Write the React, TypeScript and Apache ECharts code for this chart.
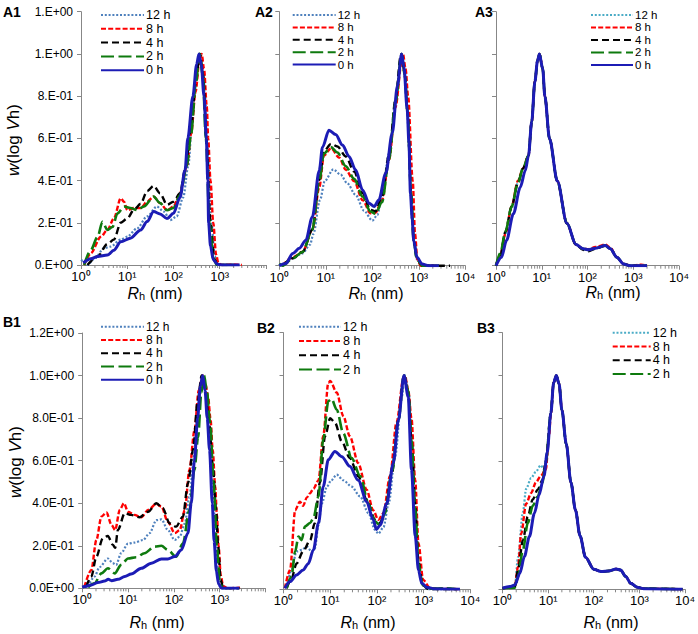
import React, { useEffect, useRef } from 'react';
import * as echarts from 'echarts';

const FONT = '"Liberation Sans", Arial, sans-serif';
const AXIS = '#878787';

const SERIES_NAMES = ['12 h', '8 h', '4 h', '2 h', '0 h'];
const X_TICK_LABELS = ['10⁰', '10¹', '10²', '10³', '10⁴'];
const Y_LABELS_A1 = ['0.E+00', '2.E-01', '4.E-01', '6.E-01', '8.E-01', '1.E+00', '1.E+00'];
const Y_LABELS_B1 = ['0.0E+00', '2.0E-01', '4.0E-01', '6.0E-01', '8.0E-01', '1.0E+00', '1.2E+00'];
const MINOR_TICKS = [2, 3, 4, 5, 6, 7, 8, 9, 20, 30, 40, 50, 60, 70, 80, 90, 200, 300, 400, 500, 600, 700, 800, 900, 2000, 3000, 4000, 5000, 6000, 7000, 8000, 9000];

// ---------- A1 ----------
const A1_12H = [[1.0,0.024],[1.1,0.02],[1.38,0],[1.95,0.03],[3.16,0.08],[4.37,0.087],[7.24,0.12],[10,0.134],[16.3,0.174],[26.9,0.23],[43.7,0.277],[61.7,0.253],[85,0.213],[117,0.23],[162,0.32],[209,0.47],[260,0.72],[310,0.9],[360,1.0],[420,0.93],[480,0.8],[560,0.5],[661,0.2],[780,0.04],[950,0],[2000,0]];
const A1_8H = [[1.17,0],[1.62,0.055],[2.69,0.134],[3.72,0.166],[5.13,0.22],[7.24,0.316],[8.51,0.3],[10,0.26],[13.8,0.27],[19.5,0.27],[26.9,0.3],[37.2,0.324],[51.3,0.293],[72.4,0.26],[100,0.277],[138,0.34],[195,0.47],[240,0.62],[300,0.82],[360,0.96],[407,1.0],[457,0.93],[525,0.75],[562,0.6],[631,0.4],[724,0.2],[832,0.05],[933,0.01],[1100,0],[2000,0.003],[3000,0]];
const A1_4H = [[1.38,0],[2.29,0.04],[3.72,0.1],[5.13,0.12],[7.24,0.2],[10,0.22],[13.8,0.26],[19.5,0.29],[26.9,0.35],[37.2,0.375],[51.3,0.34],[72.4,0.285],[100,0.3],[138,0.34],[178,0.45],[240,0.65],[300,0.86],[372,1.0],[440,0.9],[513,0.6],[631,0.2],[760,0.03],[900,0],[2000,0]];
const A1_2H = [[1.17,0],[1.62,0.07],[2.29,0.134],[2.9,0.205],[3.72,0.166],[4.79,0.18],[6.17,0.245],[8.51,0.277],[11.7,0.27],[16.3,0.26],[22.9,0.277],[37.2,0.324],[51.3,0.293],[72.4,0.26],[100,0.27],[138,0.33],[195,0.47],[240,0.62],[300,0.85],[363,1.0],[430,0.9],[500,0.6],[603,0.2],[724,0.03],[870,0],[2000,0]];
const A1_0H = [[1.12,0.01],[1.62,0.03],[2.29,0.04],[3.72,0.047],[5.13,0.07],[7.24,0.11],[11.7,0.127],[19.5,0.166],[26.9,0.206],[37.2,0.253],[51.3,0.242],[72.4,0.22],[100,0.245],[138,0.32],[178,0.45],[204,0.6],[263,0.8],[316,0.95],[355,1.0],[398,0.95],[457,0.8],[513,0.6],[550,0.4],[575,0.2],[631,0.09],[724,0.025],[891,0.003],[1200,0],[2700,0]];

// ---------- A2 ----------
const A2_12H = [[1.17,0],[1.95,0.035],[3.16,0.058],[4.6,0.1],[5.4,0.15],[7.5,0.31],[9.5,0.4],[14.5,0.455],[20.9,0.43],[28.8,0.39],[43.7,0.335],[66.1,0.26],[100,0.213],[129,0.24],[162,0.34],[229,0.53],[316,0.785],[407,0.97],[427,1.0],[479,0.93],[562,0.74],[620,0.55],[670,0.33],[724,0.2],[790,0.1],[912,0.03],[1200,0],[2700,0]];
const A2_8H = [[1.17,0],[1.95,0.04],[3.16,0.065],[5.13,0.17],[7.24,0.37],[9.12,0.52],[12.9,0.555],[19.5,0.51],[26.9,0.453],[40.7,0.4],[61.7,0.31],[91.2,0.248],[117,0.25],[162,0.31],[229,0.5],[316,0.75],[427,0.96],[457,1.0],[520,0.93],[589,0.8],[741,0.4],[830,0.15],[930,0.03],[1100,0],[2700,0]];
const A2_4H = [[1.17,0],[1.95,0.035],[3.16,0.065],[5.13,0.17],[7.24,0.405],[9.12,0.54],[12.9,0.576],[17.8,0.563],[26.9,0.516],[40.7,0.445],[61.7,0.343],[91.2,0.264],[117,0.256],[162,0.327],[229,0.524],[316,0.785],[407,0.99],[427,1.0],[500,0.9],[575,0.72],[680,0.35],[776,0.12],[912,0.03],[1200,0],[4700,0]];
const A2_2H = [[1.0,0.01],[1.17,0],[1.95,0.035],[3.16,0.065],[5.13,0.17],[7.24,0.4],[9.12,0.53],[12.9,0.56],[17.8,0.535],[26.9,0.47],[40.7,0.41],[61.7,0.327],[91.2,0.256],[117,0.245],[162,0.3],[229,0.5],[316,0.77],[427,1.0],[500,0.9],[575,0.72],[680,0.35],[776,0.12],[912,0.03],[1200,0],[2700,0]];
const A2_0H = [[1.0,0],[1.38,0.01],[1.95,0.058],[2.69,0.082],[3.72,0.12],[5.13,0.23],[7.24,0.45],[8.51,0.56],[11.7,0.64],[16.3,0.62],[22.9,0.57],[31.6,0.516],[43.7,0.453],[61.7,0.358],[85.1,0.295],[110,0.28],[138,0.31],[195,0.437],[269,0.627],[347,0.85],[427,1.0],[479,0.94],[562,0.74],[614,0.58],[661,0.34],[724,0.216],[776,0.12],[912,0.04],[1175,0.008],[1622,0],[2700,0]];

// ---------- A3 ----------
const A3_TAIL = [[5.13,0.52],[6.03,0.68],[7.08,0.87],[8.1,0.97],[8.9,1.0],[10.5,0.93],[11.7,0.8],[14.8,0.6],[21.9,0.4],[35.5,0.2],[56,0.1],[80,0.08],[105,0.075],[150,0.083],[245,0.095],[316,0.08],[437,0.04],[617,0.008],[851,0],[2000,0]];
const A3_12H = [[1.0,0],[1.25,0.05],[1.6,0.15],[2.2,0.27],[3.0,0.39],[3.9,0.46], ...A3_TAIL];
const A3_8H = [[1.0,0],[1.25,0.05],[1.6,0.15],[2.2,0.28],[3.0,0.4],[3.9,0.46],[5.13,0.52],[6.03,0.68],[7.08,0.87],[8.1,0.97],[8.9,1.0],[10.5,0.93],[11.7,0.8],[14.8,0.6],[21.9,0.4],[35.5,0.2],[56,0.1],[80,0.08],[105,0.078],[150,0.088],[245,0.1],[316,0.085],[437,0.04],[617,0.008],[900,0],[1500,0.005],[2000,0]];
const A3_4H = [[1.0,0],[1.25,0.05],[1.6,0.16],[2.2,0.28],[3.0,0.39],[3.9,0.46],[5.13,0.52],[6.03,0.68],[7.08,0.87],[8.1,0.97],[8.9,1.0],[10.5,0.93],[11.7,0.8],[14.8,0.6],[21.9,0.4],[35.5,0.2],[56,0.1],[80,0.075],[105,0.068],[150,0.08],[245,0.095],[316,0.08],[437,0.04],[617,0.008],[851,0],[2000,0]];
const A3_2H = [[1.0,0],[1.25,0.06],[1.6,0.16],[2.2,0.28],[3.0,0.39],[3.9,0.46], ...A3_TAIL];
const A3_0H = [[1.0,0],[1.32,0.04],[1.7,0.12],[2.4,0.245],[3.39,0.37],[4.37,0.45], ...A3_TAIL];

// ---------- B1 ----------
const B1_12H = [[1.35,0.008],[1.86,0.055],[2.4,0.1],[3.63,0.14],[4.68,0.118],[5.5,0.11],[7.08,0.165],[10,0.21],[13.8,0.215],[21.4,0.227],[29.5,0.259],[41.7,0.32],[53.7,0.324],[74.1,0.274],[105,0.227],[135,0.243],[174,0.305],[219,0.43],[282,0.635],[340,0.87],[417,1.0],[490,0.93],[590,0.78],[708,0.5],[830,0.2],[980,0.03],[1150,0],[2700,0]];
const B1_8H = [[1.12,0.008],[1.58,0.086],[2.04,0.227],[2.63,0.337],[3.39,0.356],[4.37,0.298],[5.25,0.274],[6.61,0.368],[8.13,0.4],[10,0.36],[13.8,0.345],[19.5,0.334],[27.5,0.368],[41.7,0.397],[53.7,0.384],[74.1,0.313],[105,0.259],[135,0.274],[174,0.368],[219,0.556],[282,0.74],[350,0.93],[427,1.0],[490,0.96],[560,0.9],[631,0.8],[708,0.65],[800,0.48],[871,0.35],[950,0.2],[1060,0.06],[1200,0.01],[1500,0],[2800,0.003]];
const B1_4H = [[1.23,0.008],[1.58,0.055],[2.04,0.149],[2.82,0.235],[3.63,0.246],[4.68,0.204],[5.25,0.19],[6.03,0.274],[8.51,0.353],[11.7,0.345],[17.8,0.334],[27.5,0.36],[41.7,0.4],[57.5,0.376],[81.3,0.305],[112,0.29],[158,0.337],[204,0.494],[263,0.65],[331,0.88],[407,1.0],[480,0.95],[580,0.8],[708,0.58],[832,0.38],[930,0.2],[1050,0.04],[1200,0],[2700,0]];
const B1_2H = [[1.35,0.005],[1.86,0.024],[2.63,0.07],[3.63,0.094],[5.13,0.07],[7.08,0.11],[10,0.14],[15.1,0.146],[22.9,0.165],[38,0.196],[53.7,0.2],[74.1,0.18],[112,0.149],[158,0.21],[219,0.368],[282,0.556],[339,0.71],[400,0.92],[457,1.0],[525,0.93],[620,0.78],[741,0.5],[870,0.2],[1000,0.04],[1150,0],[2700,0]];
const B1_0H = [[1.0,0.005],[1.12,0.008],[1.58,0.016],[2.19,0.027],[3.09,0.034],[3.7,0.042],[4.37,0.036],[6.03,0.042],[8.51,0.055],[11.7,0.067],[19.5,0.094],[32.4,0.118],[53.7,0.138],[74,0.138],[105,0.149],[145,0.18],[204,0.26],[240,0.4],[282,0.6],[331,0.8],[380,0.95],[427,1.0],[480,0.93],[537,0.8],[603,0.65],[692,0.4],[760,0.22],[851,0.08],[950,0.02],[1100,0],[2700,0]];

// ---------- B2 ----------
const B2_12H = [[1.17,0.005],[1.48,0.09],[1.9,0.177],[2.45,0.184],[3.16,0.2],[3.98,0.177],[4.68,0.19],[5.6,0.3],[6.6,0.4],[8.5,0.48],[10.5,0.51],[13.8,0.536],[19.1,0.51],[28.8,0.48],[43.7,0.434],[66.1,0.356],[91.2,0.278],[107,0.26],[138,0.29],[178,0.4],[245,0.62],[339,0.9],[400,1.0],[480,0.92],[560,0.7],[661,0.35],[776,0.12],[950,0.02],[1200,0],[2700,0]];
const B2_8H = [[1.07,0.005],[1.38,0.09],[1.78,0.37],[2.24,0.41],[2.63,0.39],[3.16,0.43],[3.72,0.45],[4.37,0.47],[5.62,0.51],[7.08,0.716],[9.12,0.966],[10,0.974],[13.8,0.92],[19.1,0.81],[26.3,0.716],[39.8,0.59],[60.3,0.466],[83.2,0.37],[107,0.325],[138,0.356],[191,0.53],[263,0.78],[372,0.99],[398,1.0],[470,0.93],[550,0.8],[661,0.51],[776,0.216],[977,0.044],[1380,0.005],[2240,0.003],[6000,0]];
const B2_4H = [[1.17,0.005],[1.48,0.05],[1.9,0.12],[2.63,0.177],[3.72,0.23],[4.68,0.31],[6.03,0.5],[7.76,0.716],[10,0.8],[12.6,0.78],[17.8,0.69],[26.3,0.614],[39.8,0.53],[60.3,0.42],[91.2,0.325],[117,0.31],[148,0.364],[209,0.544],[288,0.79],[380,1.0],[468,0.92],[560,0.68],[661,0.4],[776,0.13],[950,0.02],[1300,0],[5000,0]];
const B2_2H = [[1.17,0.005],[1.48,0.06],[1.78,0.177],[2.09,0.247],[2.45,0.23],[2.88,0.294],[3.72,0.31],[4.37,0.333],[5.62,0.434],[7.08,0.7],[9.12,0.88],[10.7,0.89],[13.8,0.84],[19.1,0.73],[28.8,0.614],[43.7,0.53],[66.1,0.4],[91.2,0.317],[117,0.3],[148,0.356],[209,0.544],[288,0.79],[380,1.0],[468,0.93],[550,0.7],[661,0.38],[776,0.12],[950,0.02],[1300,0.003],[3000,0.005],[5000,0]];
const B2_0H = [[1.07,0.005],[1.38,0.036],[1.9,0.067],[2.63,0.09],[3.39,0.12],[4.37,0.184],[5.62,0.31],[7.08,0.48],[9.12,0.606],[12.6,0.645],[17.8,0.62],[26.3,0.575],[39.8,0.51],[60.3,0.41],[83.2,0.325],[97.7,0.28],[117,0.3],[162,0.4],[224,0.59],[288,0.79],[380,1.0],[468,0.9],[550,0.56],[661,0.25],[776,0.09],[912,0.028],[1175,0.01],[1622,0.003],[6000,0]];

// ---------- B3 ----------
const B3_TAIL = [[13.2,0.966],[15.1,1.0],[17.4,0.96],[20,0.84],[25,0.68],[31.6,0.5],[39.8,0.37],[50,0.25],[66,0.15],[100,0.094],[145,0.083],[219,0.086],[309,0.095],[389,0.09],[501,0.06],[646,0.028],[891,0.01],[1230,0.003],[8900,0]];
const B3_12H = [[1.0,0.005],[1.86,0.01],[2.19,0.15],[2.8,0.36],[3.3,0.47],[4.24,0.52],[5.4,0.55],[6.9,0.58],[8.13,0.56],[9.55,0.64],[11.5,0.825], ...B3_TAIL];
const B3_8H = [[1.0,0.005],[1.86,0.01],[2.19,0.106],[2.57,0.26],[3.3,0.4],[4.24,0.45],[5.4,0.5],[6.9,0.53],[8.9,0.56],[10.5,0.72],[11.5,0.825], ...B3_TAIL];
const B3_4H = [[1.0,0.005],[1.86,0.01],[2.19,0.09],[2.8,0.23],[3.58,0.34],[4.6,0.42],[5.9,0.466],[7.5,0.51],[8.9,0.6],[11.5,0.825], ...B3_TAIL];
const B3_2H = [[1.0,0.005],[1.86,0.008],[2.19,0.06],[2.8,0.184],[3.58,0.31],[4.6,0.39],[5.9,0.434],[7.5,0.5],[8.9,0.59],[11.5,0.825], ...B3_TAIL];
const B3_0H = [[1.0,0.005],[1.45,0.013],[1.86,0.02],[2.4,0.075],[3.02,0.153],[3.89,0.247],[5.01,0.356],[6.31,0.44],[8.13,0.53],[9.55,0.64],[11.5,0.825], ...B3_TAIL];

const LINE_COLORS = ['#4F81BD', '#FF0000', '#000000', '#0E7A0E', '#1C1CB5'];
const CYAN_12H = '#4BACC6';
const LINE_STYLES: any[] = [
  { width: 2.2, type: [2, 1.8] },
  { width: 2.4, type: [5, 2.2] },
  { width: 2.4, type: [7, 4] },
  { width: 2.6, type: [13, 4.5] },
  { width: 3, type: 'solid' },
];

const PANELS: any[] = [
  { id: 'A1', grid: [81, 11.7, 185, 253.3], data: [A1_12H, A1_8H, A1_4H, A1_2H, A1_0H], c12: LINE_COLORS[0], yLabels: Y_LABELS_A1, show10k: false,
    legend: [100, 8.1, 13.8, 43, 5, 12.5], label: [3, 12], xTitle: [155, 293], yTitle: [13, 140] },
  { id: 'A2', grid: [279.3, 11.7, 186, 254], data: [A2_12H, A2_8H, A2_4H, A2_2H, A2_0H], c12: LINE_COLORS[0], yLabels: null, show10k: true,
    legend: [291.7, 8.8, 12.4, 43, 5, 11.5], label: [255, 12], xTitle: [376, 293] },
  { id: 'A3', grid: [496, 11.7, 183, 254], data: [A3_12H, A3_8H, A3_4H, A3_2H, A3_0H], c12: CYAN_12H, yLabels: null, show10k: true,
    legend: [590, 8.7, 12.5, 42, 5, 11.5], label: [475, 12], xTitle: [613, 292] },
  { id: 'B1', grid: [82.2, 333, 183.2, 255.3], data: [B1_12H, B1_8H, B1_4H, B1_2H, B1_0H], c12: LINE_COLORS[0], yLabels: Y_LABELS_B1, show10k: false,
    legend: [100, 320, 13.3, 43, 5, 12], label: [3, 322], xTitle: [157, 622], yTitle: [15, 462] },
  { id: 'B2', grid: [283.5, 332.7, 186.8, 256.6], data: [B2_12H, B2_8H, B2_4H, B2_2H, B2_0H], c12: LINE_COLORS[0], yLabels: null, show10k: true,
    legend: [298, 319.5, 14.3, 42, 4, 12.5], label: [257, 328], xTitle: [368, 622] },
  { id: 'B3', grid: [502.5, 332.7, 186.4, 256.6], data: [B3_12H, B3_8H, B3_4H, B3_2H, B3_0H], c12: CYAN_12H, yLabels: null, show10k: true,
    legend: [611.7, 325.8, 13.8, 38, 4, 12.5], label: [477, 328], xTitle: [611, 622] },
];

function buildOption() {
  const grid: any[] = [], xAxis: any[] = [], yAxis: any[] = [], series: any[] = [], legend: any[] = [], graphic: any[] = [];
  PANELS.forEach((p, i) => {
    const [gl, gt, gw, gh] = p.grid;
    grid.push({ left: gl, top: gt, width: gw, height: gh });
    xAxis.push({
      type: 'log', logBase: 10, min: 1, max: 10000, gridIndex: i,
      axisLine: { show: true, onZero: false, lineStyle: { color: AXIS, width: 1 } },
      axisTick: { show: true, length: 4, lineStyle: { color: AXIS } },
      splitLine: { show: false },
      axisLabel: {
        margin: 5, fontSize: 13, color: '#000', fontFamily: FONT,
        formatter: (v: number) => {
          const e = Math.round(Math.log10(v));
          if (e === 4 && !p.show10k) return '';
          return X_TICK_LABELS[e] ?? '';
        },
      },
    });
    yAxis.push({
      type: 'value', min: 0, max: 1.2, interval: 0.2, gridIndex: i,
      axisLine: { show: true, lineStyle: { color: AXIS, width: 1 } },
      axisTick: { show: true, length: 4, lineStyle: { color: AXIS } },
      splitLine: { show: false },
      axisLabel: {
        show: !!p.yLabels, margin: 8, fontSize: 12, color: '#000', fontFamily: FONT,
        formatter: (v: number) => (p.yLabels ? p.yLabels[Math.round(v / 0.2)] : ''),
      },
    });
    // minor ticks of the log axis
    series.push({
      type: 'custom', xAxisIndex: i, yAxisIndex: i, silent: true,
      data: MINOR_TICKS.map((v) => [v, 0]),
      renderItem: (_params: any, api: any) => {
        const pt = api.coord([api.value(0), 0]);
        return { type: 'line', shape: { x1: pt[0], y1: pt[1], x2: pt[0], y2: pt[1] + 3 }, style: { stroke: AXIS, lineWidth: 1 } };
      },
    });
    p.data.forEach((d: number[][], k: number) => {
      series.push({
        type: 'line', name: SERIES_NAMES[k], xAxisIndex: i, yAxisIndex: i, data: d,
        symbol: 'none', smooth: 0.3, smoothMonotone: 'x', silent: true,
        lineStyle: { color: k === 0 ? p.c12 : LINE_COLORS[k], width: LINE_STYLES[k].width, type: LINE_STYLES[k].type, cap: 'butt', join: 'round' },
      });
    });
    const [ll, lt, lgap, lw, ln, lfs] = p.legend;
    legend.push({
      orient: 'vertical', left: ll, top: lt, padding: 0, itemGap: 0, itemWidth: lw, itemHeight: 10,
      selectedMode: false,
      itemStyle: { opacity: 0 },
      textStyle: { fontSize: lfs, color: '#000', fontFamily: FONT, lineHeight: lgap, padding: [0, 0, 0, -3] },
      data: SERIES_NAMES.slice(0, ln).map((n, k) => ({ name: n, lineStyle: { color: k === 0 ? p.c12 : LINE_COLORS[k] } })),
    });
    graphic.push({
      type: 'text', x: p.label[0], y: p.label[1], silent: true,
      style: { text: p.id, fontSize: 14, fontWeight: 'bold', fontFamily: FONT, fill: '#000', align: 'left', verticalAlign: 'middle' },
    });
    graphic.push({
      type: 'text', x: p.xTitle[0], y: p.xTitle[1], silent: true,
      style: {
        text: '{r|R}{s|h}{n| (nm)}', align: 'center', verticalAlign: 'middle',
        rich: {
          r: { fontSize: 16, fontStyle: 'italic', fontFamily: FONT, fill: '#000', lineHeight: 16 },
          s: { fontSize: 11, fontFamily: FONT, fill: '#000', lineHeight: 10, verticalAlign: 'bottom' },
          n: { fontSize: 16, fontFamily: FONT, fill: '#000', lineHeight: 16 },
        },
      },
    });
    if (p.yTitle) {
      graphic.push({
        type: 'text', x: p.yTitle[0], y: p.yTitle[1], rotation: Math.PI / 2, silent: true,
        style: {
          text: '{i|w}{n|(log }{i|V}{n|h)}', align: 'center', verticalAlign: 'middle',
          rich: {
            i: { fontSize: 17, fontStyle: 'italic', fontFamily: FONT, fill: '#000' },
            n: { fontSize: 17, fontFamily: FONT, fill: '#000' },
          },
        },
      });
    }
  });
  return { animation: false, backgroundColor: '#fff', grid, xAxis, yAxis, series, legend, graphic };
}

export default function App() {
  const ref = useRef<HTMLDivElement>(null);
  useEffect(() => {
    const chart = echarts.init(ref.current as HTMLDivElement, null, { renderer: 'svg' });
    chart.setOption(buildOption() as any);
    return () => chart.dispose();
  }, []);
  return <div ref={ref} style={{ position: 'fixed', left: 0, top: 0, width: 698, height: 634, background: '#fff' }} />;
}
